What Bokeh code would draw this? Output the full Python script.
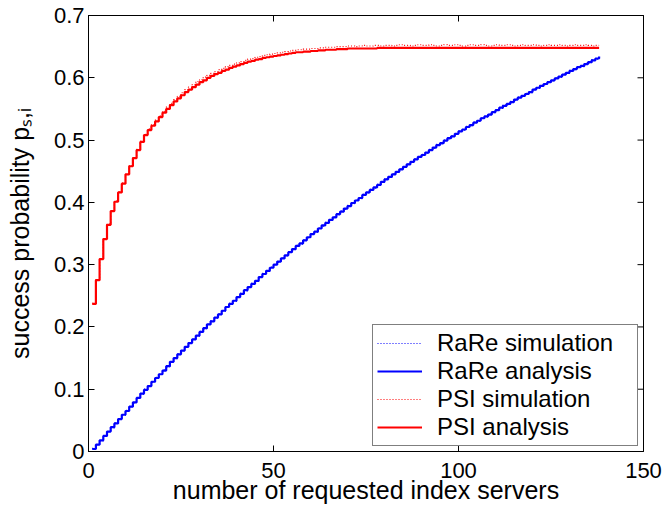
from bokeh.plotting import figure
from bokeh.models import Range1d, LinearAxis, FixedTicker
from bokeh.embed import file_html
from bokeh.resources import INLINE

# ---------------- data ----------------
servers = list(range(1, 139))

rare_analysis = [
    0.004, 0.011, 0.018, 0.025, 0.032, 0.039, 0.045, 0.052, 0.059, 0.065,
    0.072, 0.079, 0.086, 0.093, 0.099, 0.105, 0.112, 0.118, 0.124, 0.130,
    0.137, 0.144, 0.150, 0.156, 0.162, 0.168, 0.174, 0.180, 0.186, 0.192,
    0.198, 0.204, 0.209, 0.215, 0.220, 0.226, 0.232, 0.237, 0.242, 0.248,
    0.253, 0.259, 0.264, 0.269, 0.274, 0.280, 0.285, 0.290, 0.295, 0.300,
    0.305, 0.310, 0.315, 0.320, 0.325, 0.330, 0.334, 0.339, 0.344, 0.349,
    0.353, 0.358, 0.363, 0.367, 0.372, 0.376, 0.381, 0.385, 0.390, 0.394,
    0.399, 0.403, 0.407, 0.412, 0.416, 0.420, 0.424, 0.428, 0.433, 0.437,
    0.441, 0.445, 0.449, 0.453, 0.457, 0.461, 0.465, 0.469, 0.473, 0.476,
    0.480, 0.484, 0.488, 0.492, 0.495, 0.499, 0.503, 0.506, 0.510, 0.514,
    0.517, 0.521, 0.524, 0.528, 0.531, 0.535, 0.538, 0.541, 0.545, 0.548,
    0.552, 0.555, 0.558, 0.561, 0.565, 0.568, 0.571, 0.574, 0.577, 0.581,
    0.584, 0.587, 0.590, 0.593, 0.596, 0.599, 0.602, 0.605, 0.608, 0.611,
    0.614, 0.617, 0.619, 0.622, 0.625, 0.628, 0.631, 0.634,
]

rare_simulation = [
    0.005, 0.011, 0.017, 0.025, 0.032, 0.038, 0.046, 0.052, 0.058, 0.066,
    0.072, 0.078, 0.086, 0.092, 0.100, 0.105, 0.111, 0.119, 0.124, 0.131,
    0.136, 0.144, 0.149, 0.157, 0.162, 0.167, 0.175, 0.180, 0.185, 0.193,
    0.197, 0.204, 0.210, 0.214, 0.221, 0.225, 0.232, 0.238, 0.241, 0.248,
    0.254, 0.258, 0.264, 0.270, 0.273, 0.280, 0.286, 0.289, 0.296, 0.300,
    0.304, 0.311, 0.314, 0.321, 0.324, 0.331, 0.333, 0.340, 0.343, 0.350,
    0.352, 0.359, 0.362, 0.368, 0.371, 0.377, 0.380, 0.386, 0.389, 0.395,
    0.398, 0.404, 0.406, 0.413, 0.415, 0.421, 0.423, 0.429, 0.432, 0.438,
    0.440, 0.446, 0.448, 0.454, 0.456, 0.462, 0.464, 0.470, 0.472, 0.477,
    0.479, 0.485, 0.487, 0.493, 0.494, 0.500, 0.502, 0.507, 0.509, 0.515,
    0.516, 0.522, 0.523, 0.529, 0.530, 0.536, 0.537, 0.542, 0.544, 0.549,
    0.551, 0.556, 0.557, 0.562, 0.564, 0.569, 0.570, 0.575, 0.576, 0.582,
    0.583, 0.588, 0.589, 0.594, 0.595, 0.600, 0.601, 0.606, 0.607, 0.612,
    0.613, 0.618, 0.618, 0.623, 0.624, 0.629, 0.630, 0.634,
]

psi_analysis = [
    0.237, 0.275, 0.309, 0.341, 0.364, 0.386, 0.401, 0.416, 0.430, 0.445,
    0.458, 0.471, 0.484, 0.497, 0.508, 0.516, 0.523, 0.530, 0.537, 0.544,
    0.550, 0.556, 0.562, 0.567, 0.572, 0.577, 0.581, 0.585, 0.589, 0.593,
    0.596, 0.600, 0.603, 0.606, 0.608, 0.611, 0.613, 0.616, 0.618, 0.620,
    0.622, 0.624, 0.626, 0.627, 0.629, 0.630, 0.632, 0.633, 0.634, 0.635,
    0.636, 0.637, 0.638, 0.639, 0.640, 0.641, 0.641, 0.642, 0.642, 0.643,
    0.643, 0.644, 0.644, 0.645, 0.645, 0.645, 0.646, 0.646, 0.646, 0.647,
    0.647, 0.647, 0.647, 0.647, 0.647, 0.647, 0.647, 0.648, 0.648, 0.648,
    0.648, 0.648, 0.648, 0.648, 0.648, 0.648, 0.648, 0.648, 0.648, 0.648,
    0.648, 0.648, 0.648, 0.648, 0.648, 0.648, 0.648, 0.648, 0.648, 0.648,
    0.648, 0.648, 0.648, 0.648, 0.648, 0.648, 0.648, 0.648, 0.648, 0.648,
    0.648, 0.648, 0.648, 0.648, 0.648, 0.648, 0.648, 0.648, 0.648, 0.648,
    0.648, 0.648, 0.648, 0.648, 0.648, 0.648, 0.648, 0.648, 0.648, 0.648,
    0.648, 0.648, 0.648, 0.648, 0.648, 0.648, 0.648, 0.648,
]

psi_simulation = [
    0.238, 0.276, 0.309, 0.342, 0.365, 0.386, 0.402, 0.417, 0.431, 0.445,
    0.459, 0.472, 0.485, 0.498, 0.509, 0.518, 0.525, 0.532, 0.539, 0.546,
    0.553, 0.559, 0.565, 0.570, 0.576, 0.581, 0.585, 0.589, 0.594, 0.597,
    0.601, 0.604, 0.607, 0.610, 0.613, 0.615, 0.618, 0.620, 0.622, 0.624,
    0.626, 0.628, 0.630, 0.631, 0.633, 0.634, 0.636, 0.637, 0.638, 0.639,
    0.640, 0.641, 0.642, 0.643, 0.644, 0.645, 0.645, 0.646, 0.646, 0.647,
    0.647, 0.648, 0.648, 0.649, 0.649, 0.649, 0.650, 0.650, 0.650, 0.651,
    0.651, 0.650, 0.651, 0.652, 0.651, 0.651, 0.652, 0.652, 0.651, 0.652,
    0.652, 0.651, 0.652, 0.653, 0.652, 0.652, 0.651, 0.652, 0.653, 0.652,
    0.652, 0.653, 0.652, 0.651, 0.652, 0.653, 0.652, 0.652, 0.653, 0.652,
    0.651, 0.652, 0.653, 0.652, 0.652, 0.653, 0.652, 0.651, 0.652, 0.653,
    0.652, 0.652, 0.653, 0.652, 0.651, 0.652, 0.653, 0.652, 0.652, 0.653,
    0.652, 0.651, 0.652, 0.653, 0.652, 0.652, 0.653, 0.652, 0.651, 0.652,
    0.653, 0.652, 0.652, 0.653, 0.652, 0.651, 0.652, 0.652,
]

x_ticks = [0, 50, 100, 150]
y_ticks = [0, 0.1, 0.2, 0.3, 0.4, 0.5, 0.6, 0.7]
y_tick_labels = {0: "0", 0.1: "0.1", 0.2: "0.2", 0.3: "0.3", 0.4: "0.4",
                 0.5: "0.5", 0.6: "0.6", 0.7: "0.7"}

x_label = "number of requested index servers"
y_label = "success probability p\u209b,\u1d62"

# ---------------- figure ----------------
FONT = "Liberation Sans"

p = figure(width=666, height=506, output_backend="svg", toolbar_location=None,
           x_range=Range1d(x_ticks[0], x_ticks[-1]),
           y_range=Range1d(y_ticks[0], y_ticks[-1]),
           min_border_left=88, min_border_right=23, min_border_top=15,
           min_border_bottom=55)
p.xgrid.visible = False
p.ygrid.visible = False
p.outline_line_color = "black"
p.outline_line_width = 1
p.background_fill_color = "white"
p.border_fill_color = "white"

p.step(servers, rare_simulation, mode="after", line_color="#0000ff",
       line_width=1.2, line_dash="1 2", legend_label="RaRe simulation")
p.step(servers, rare_analysis, mode="after", line_color="#0000ff",
       line_width=2.2, legend_label="RaRe analysis")
p.step(servers, psi_simulation, mode="after", line_color="#ff0000",
       line_width=1.2, line_dash="1 2", legend_label="PSI simulation")
p.step(servers, psi_analysis, mode="after", line_color="#ff0000",
       line_width=2.2, legend_label="PSI analysis")

# inward tick marks on the right edge (box axis, no labels): half of each
# dash falls outside the frame and is clipped away
p.dash(x=[x_ticks[-1]] * len(y_ticks), y=y_ticks, size=12, angle=0,
       line_color="black", line_width=1)

# axes
for ax in (p.xaxis[0], p.yaxis[0]):
    ax.major_tick_in = 6
    ax.major_tick_out = 0
    ax.minor_tick_in = 0
    ax.minor_tick_out = 0
    ax.axis_line_color = "black"
    ax.major_tick_line_color = "black"
    ax.major_label_text_font = FONT
    ax.major_label_text_font_size = "22px"
    ax.major_label_text_color = "black"
    ax.axis_label_text_font = FONT
    ax.axis_label_text_font_size = "25px"
    ax.axis_label_text_font_style = "normal"
    ax.axis_label_text_color = "black"

p.xaxis.ticker = FixedTicker(ticks=x_ticks)
p.yaxis.ticker = FixedTicker(ticks=y_ticks)
p.yaxis.major_label_overrides = y_tick_labels
p.xaxis.axis_label = x_label
p.yaxis.axis_label = y_label
p.xaxis.major_label_standoff = 11
p.xaxis.axis_label_standoff = -5
p.yaxis.major_label_standoff = 4
p.yaxis.axis_label_standoff = 17

top = LinearAxis(ticker=FixedTicker(ticks=x_ticks), major_tick_in=6,
                 major_tick_out=0, minor_tick_in=0, minor_tick_out=0,
                 major_label_text_font_size="1px", major_label_standoff=0,
                 major_label_overrides={t: "" for t in x_ticks},
                 axis_line_color="black", major_tick_line_color="black")
p.add_layout(top, "above")

# legend
lg = p.legend[0]
lg.location = "bottom_right"
lg.margin = 5
lg.padding = 4
lg.spacing = 0
lg.label_text_font = FONT
lg.label_text_font_size = "24px"
lg.label_text_color = "black"
lg.glyph_width = 45
lg.glyph_height = 20
lg.label_standoff = 15
lg.label_height = 28
lg.label_width = 196
lg.border_line_color = "black"
lg.border_line_width = 1
lg.background_fill_color = "white"
lg.background_fill_alpha = 1.0

open("out.html", "w").write(file_html(p, INLINE))
